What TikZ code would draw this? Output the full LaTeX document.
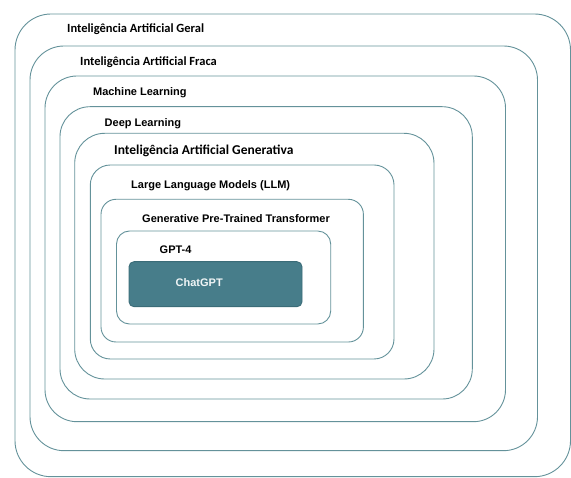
\documentclass[tikz,border=0pt]{standalone}
\usepackage{fontspec}
\setmainfont{Carlito}
\newfontfamily\lblfont{Liberation Sans}
\usetikzlibrary{calc}
\definecolor{framecol}{HTML}{64929A}
\definecolor{chatfill}{HTML}{477D8A}
\definecolor{chatdraw}{HTML}{3B6C78}
\tikzset{
  frame/.style={draw=framecol, line width=0.9pt},
  biglbl/.style={anchor=west, inner sep=0pt, font=\bfseries\fontsize{12.5}{14}\selectfont},
  smalllbl/.style={anchor=west, inner sep=0pt, font=\lblfont\bfseries\fontsize{11}{13}\selectfont},
}
\begin{document}
\begin{tikzpicture}[x=1pt, y=-1pt]
% Canvas
\useasboundingbox (0,0) rectangle (571,478);
% Nested frames, outermost first
\draw[frame, rounded corners=36] (15,14) rectangle (570.5,476.7); % Geral
\draw[frame, rounded corners=34] (30,46) rectangle (537.5,450.7); % Fraca
\draw[frame, rounded corners=32] (45,76) rectangle (505.5,421.7); % Machine Learning
\draw[frame, rounded corners=30] (60,106.7) rectangle (472.3,399); % Deep Learning
\draw[frame, rounded corners=30] (74.7,133.3) rectangle (434,379); % Generativa
\draw[frame, rounded corners=20] (90.3,165) rectangle (394,359); % LLM
\draw[frame, rounded corners=15] (101,199.3) rectangle (363.4,342); % GPT
\draw[frame, rounded corners=13] (116.5,231) rectangle (330.7,324); % GPT-4
% Innermost filled box
\draw[fill=chatfill, draw=chatdraw, line width=0.9pt, rounded corners=5] (129,261.7) rectangle (302,306.7);
% Frame labels
\node[biglbl] (geral) at (67,29.3) {Inteligência Artificial Geral};
\node[biglbl] (fraca) at (80,61.7) {Inteligência Artificial Fraca};
\node[smalllbl] (ml) at (92.9,92.7) {Machine Learning};
\node[smalllbl] (deep) at (104.5,123.3) {Deep Learning};
\node[biglbl, font=\bfseries\fontsize{13.5}{15}\selectfont] (gen) at (114,150.7) {Inteligência Artificial Generativa};
\node[smalllbl] (llm) at (131,185.7) {Large Language Models (LLM)};
\node[smalllbl] (gpt) at (142,219) {Generative Pre-Trained Transformer};
\node[smalllbl] (gptfour) at (159.5,250) {GPT-4};
% Label inside the filled box
\node[smalllbl, text=white!92!chatfill] (chat) at (175.5,283) {ChatGPT};
\end{tikzpicture}
\end{document}
